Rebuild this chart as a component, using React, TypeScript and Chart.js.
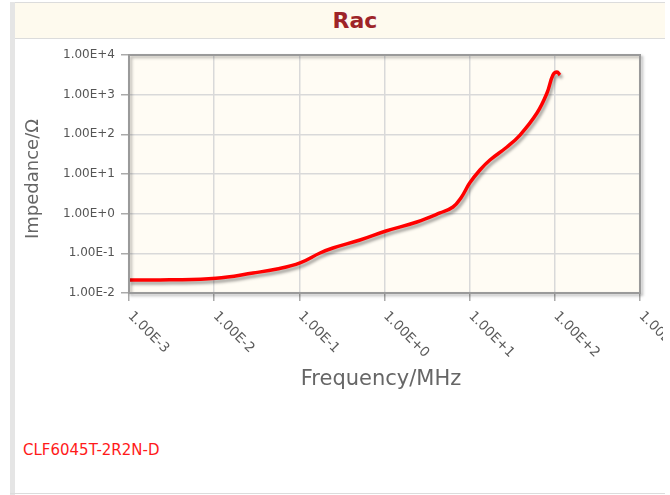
import React, { useEffect, useRef } from "react";
import { Chart, registerables } from "chart.js";

Chart.register(...registerables);

// Frequency (MHz) and AC resistance (Ohm)
const freqMHz = [0.001, 0.003, 0.0105, 0.0286, 0.0547, 0.102, 0.175, 0.248, 0.515, 1.04, 2.4, 4.48, 6.37, 8.0, 10.0, 13.2, 17.3, 27.4, 39, 61.7, 80.9, 95, 106, 115];
const racOhm = [0.0213, 0.0215, 0.0235, 0.0319, 0.0403, 0.0575, 0.102, 0.136, 0.217, 0.366, 0.617, 1.04, 1.47, 2.6, 5.9, 12.6, 22.5, 48, 96, 344, 1100, 3130, 3720, 3130];

const xTicks = [1e-3, 1e-2, 1e-1, 1e0, 1e1, 1e2, 1e3];
const yTicks = [1e-2, 1e-1, 1e0, 1e1, 1e2, 1e3, 1e4];

const chartTitle = "Rac";
const xTitle = "Frequency/MHz";
const yTitle = "Impedance/Ω";
const partName = "CLF6045T-2R2N-D";

const fmt = (v: number) => v.toExponential(2).toUpperCase();

const FONT = "'DejaVu Sans', sans-serif";

export default function App() {
  const ref = useRef<HTMLCanvasElement | null>(null);

  useEffect(() => {
    const canvas = ref.current;
    if (!canvas) return;

    const decor = {
      id: "decor",
      beforeDraw(chart: any) {
        const { ctx, chartArea: a } = chart;
        ctx.save();
        ctx.fillStyle = "#fffcf4";
        ctx.fillRect(a.left, a.top, a.right - a.left, a.bottom - a.top);
        ctx.restore();
      },
      beforeDatasetDraw(chart: any) {
        const ctx = chart.ctx;
        ctx.save();
        ctx.shadowColor = "rgba(0,0,0,0.35)";
        ctx.shadowOffsetX = 2;
        ctx.shadowOffsetY = 3;
        ctx.shadowBlur = 3;
      },
      afterDatasetDraw(chart: any) {
        chart.ctx.restore();
      },
      afterDraw(chart: any) {
        const { ctx, chartArea: a } = chart;
        const xs = chart.scales.x;
        // frame with shadow
        ctx.save();
        ctx.shadowColor = "rgba(0,0,0,0.3)";
        ctx.shadowOffsetX = 2;
        ctx.shadowOffsetY = 2;
        ctx.shadowBlur = 3;
        ctx.strokeStyle = "#9a9a9a";
        ctx.lineWidth = 2;
        ctx.strokeRect(a.left, a.top, a.right - a.left, a.bottom - a.top);
        ctx.restore();

        // rotated x tick labels
        ctx.save();
        ctx.fillStyle = "#5a5a5a";
        ctx.font = "13.5px " + FONT;
        ctx.textAlign = "left";
        ctx.textBaseline = "middle";
        xTicks.forEach((v) => {
          const px = xs.getPixelForValue(v);
          ctx.save();
          ctx.translate(px + 1, a.bottom + 21);
          ctx.rotate(Math.PI / 4);
          ctx.fillText(fmt(v), 0, 0);
          ctx.restore();
        });
        ctx.restore();

        // axis titles
        ctx.save();
        ctx.fillStyle = "#666";
        ctx.textAlign = "center";
        ctx.textBaseline = "middle";
        ctx.font = "21px " + FONT;
        ctx.fillText(xTitle, 367, 340);
        ctx.font = "18px " + FONT;
        ctx.translate(19, 139);
        ctx.rotate(-Math.PI / 2);
        ctx.fillText(yTitle, 0, 0);
        ctx.restore();
      },
    };

    const chart = new Chart(canvas, {
      type: "line",
      data: {
        datasets: [
          {
            label: partName,
            data: freqMHz.map((f, i) => ({ x: f, y: racOhm[i] })),
            borderColor: "#ff0000",
            borderWidth: 3.5,
            pointRadius: 0,
            tension: 0.4,
            fill: false,
          },
        ],
      },
      options: {
        animation: false,
        responsive: false,
        maintainAspectRatio: false,
        layout: { padding: { top: 15, right: 23, left: 0, bottom: 0 } },
        plugins: {
          legend: { display: false },
          title: { display: false },
          tooltip: { enabled: false },
        },
        scales: {
          x: {
            type: "logarithmic",
            min: 1e-3,
            max: 1e3,
            afterBuildTicks: (s: any) => {
              s.ticks = xTicks.map((v) => ({ value: v }));
            },
            afterFit: (s: any) => {
              s.height = 107;
            },
            ticks: { display: false },
            grid: {
              color: "#d9d9d9",
              lineWidth: 1.5,
              tickLength: 8,
              tickColor: "#aaaaaa",
              drawTicks: true,
            },
            border: { display: false },
          },
          y: {
            type: "logarithmic",
            min: 1e-2,
            max: 1e4,
            afterBuildTicks: (s: any) => {
              s.ticks = yTicks.map((v) => ({ value: v }));
            },
            afterFit: (s: any) => {
              s.width = 115;
            },
            ticks: {
              callback: (v: any) => fmt(Number(v)),
              color: "#555",
              font: { family: FONT, size: 12 },
              padding: 6,
              autoSkip: false,
            },
            grid: {
              color: "#d9d9d9",
              lineWidth: 1.5,
              tickLength: 8,
              tickColor: "#aaaaaa",
              drawTicks: true,
            },
            border: { display: false },
          },
        },
      },
      plugins: [decor],
    } as any);

    return () => chart.destroy();
  }, []);

  return (
    <div style={{ position: "absolute", left: 0, top: 0, width: 670, height: 495, background: "#fff", overflow: "hidden" }}>
      <div style={{ position: "absolute", left: 10, top: 2, width: 5, height: 493, background: "#e5e5e5" }} />
      <div
        style={{
          position: "absolute",
          left: 15,
          top: 2,
          width: 650,
          height: 37,
          background: "#fefaee",
          borderTop: "1px solid #dcdcdc",
          borderBottom: "1px solid #dcdcdc",
          boxSizing: "border-box",
          display: "flex",
          alignItems: "center",
          justifyContent: "center",
          fontFamily: FONT,
          fontWeight: "bold",
          fontSize: 22,
          color: "#9e2428",
          paddingLeft: 30,
        }}
      >
        {chartTitle}
      </div>
      <canvas
        ref={ref}
        width={649}
        height={360}
        style={{ position: "absolute", left: 14, top: 40, width: 649, height: 360 }}
      />
      <div
        style={{
          position: "absolute",
          left: 23,
          top: 441,
          fontFamily: FONT,
          fontSize: 15,
          color: "#ff1a1a",
        }}
      >
        {partName}
      </div>
      <div style={{ position: "absolute", left: 10, top: 493, width: 655, height: 1, background: "#dcdcdc" }} />
    </div>
  );
}
